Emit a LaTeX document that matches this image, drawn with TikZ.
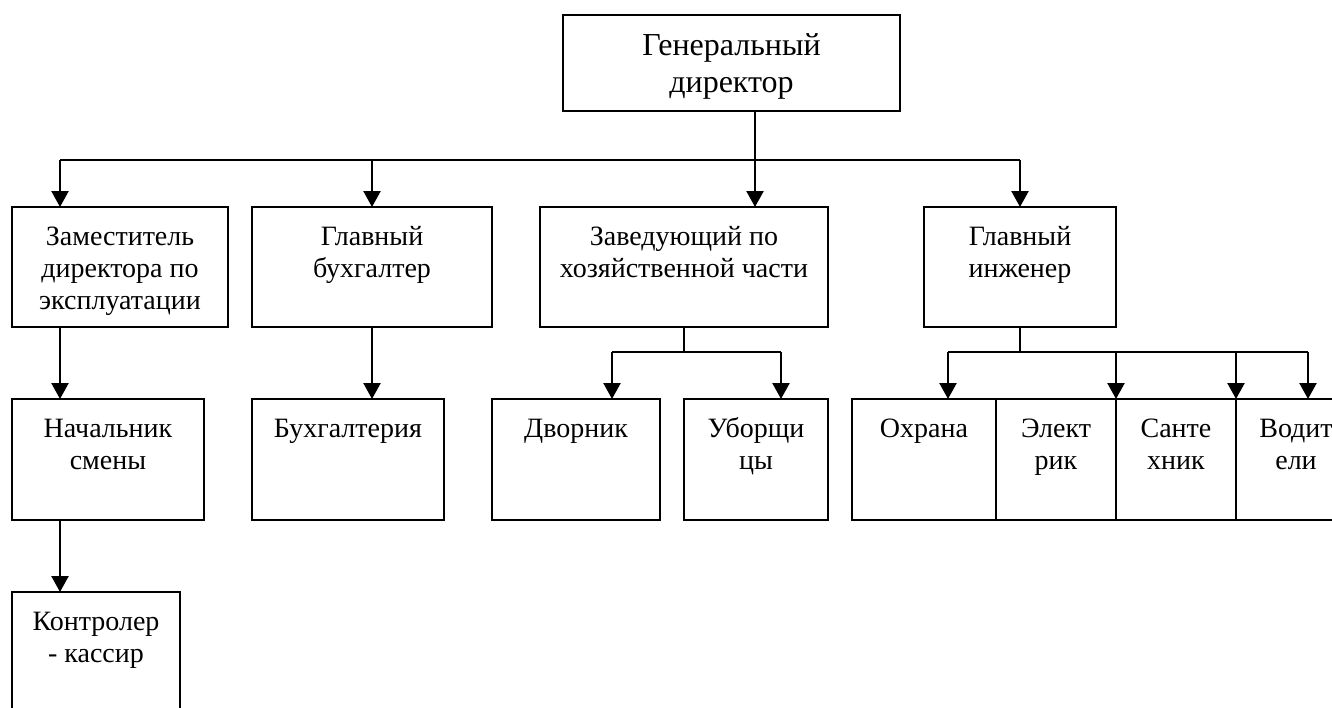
\documentclass[tikz,border=0pt]{standalone}
\usepackage{fontspec}
\setmainfont{Liberation Serif}
\usetikzlibrary{arrows.meta}

\tikzset{
  post/.style={draw,line width=2.4pt,inner sep=0pt,outer sep=0pt,anchor=north west},
  link/.style={line width=2.4pt},
  arr/.style={line width=2.4pt,-{Triangle[width=17pt,length=16pt]}}
}
% text of a post, held at the top of its box
\newcommand{\posttext}[3]{\parbox[c][#2][t]{#1}{\centering\fontsize{28}{32}\selectfont\rule{0pt}{38pt}#3}}
\newcommand{\headtext}[3]{\parbox[c][#2][t]{#1}{\centering\fontsize{32}{37}\selectfont\rule{0pt}{40pt}#3}}

\begin{document}
\begin{tikzpicture}[x=1pt,y=-1pt]
\useasboundingbox (0,0) rectangle (1332,707);
\clip (0,0) rectangle (1332,707);

\node[post] (gd) at (563,15) {\headtext{337pt}{96pt}{Генеральный\\директор}};

\node[post] (z1) at (12,207)  {\posttext{216pt}{120pt}{Заместитель\\директора по\\эксплуатации}};
\node[post] (z2) at (252,207) {\posttext{240pt}{120pt}{Главный\\бухгалтер}};
\node[post] (z3) at (540,207) {\posttext{288pt}{120pt}{Заведующий по\\хозяйственной части}};
\node[post] (z4) at (924,207) {\posttext{192pt}{120pt}{Главный\\инженер}};

\node[post] (n1) at (12,399)   {\posttext{192pt}{121pt}{Начальник\\смены}};
\node[post] (n2) at (252,399)  {\posttext{192pt}{121pt}{Бухгалтерия}};
\node[post] (dv) at (492,399)  {\posttext{168pt}{121pt}{Дворник}};
\node[post] (ub) at (684,399)  {\posttext{144pt}{121pt}{Уборщи\\цы}};
\node[post] (oh) at (852,399)  {\posttext{144pt}{121pt}{Охрана}};
\node[post] (el) at (996,399)  {\posttext{120pt}{121pt}{Элект\\рик}};
\node[post] (st) at (1116,399) {\posttext{120pt}{121pt}{Санте\\хник}};
\node[post] (vd) at (1236,399) {\posttext{120pt}{121pt}{Водит\\ели}};

\node[post] (kk) at (12,592) {\posttext{168pt}{140pt}{Контролер\\- кассир}};

% first level
\coordinate (a1) at (60,160);
\coordinate (a2) at (372,160);
\coordinate (a3) at (755,160);
\coordinate (a4) at (1020,160);
\draw[link] (gd.south -| a3) -- (a3);
\draw[link] (a1) -- (a4);
\foreach \i/\n in {1/z1,2/z2,3/z3,4/z4}
  \draw[arr] (a\i) -- (a\i |- \n.north);

% second level
\draw[arr] (z1.south -| a1) -- (a1 |- n1.north);
\draw[arr] (z2.south -| a2) -- (a2 |- n2.north);

\coordinate (d1) at (612,352);
\coordinate (d2) at (781,352);
\draw[link] (z3.south) -- (z3.south |- d1);
\draw[link] (d1) -- (d2);
\draw[arr] (d1) -- (d1 |- dv.north);
\draw[arr] (d2) -- (d2 |- ub.north);

\coordinate (e1) at (948,352);
\coordinate (e2) at (1116,352);
\coordinate (e3) at (1236,352);
\coordinate (e4) at (1308,352);
\draw[link] (z4.south) -- (z4.south |- e1);
\draw[link] (e1) -- (e4);
\foreach \i/\n in {1/oh,2/el,3/st,4/vd}
  \draw[arr] (e\i) -- (e\i |- \n.north);

% third level
\draw[arr] (n1.south -| a1) -- (a1 |- kk.north);
\end{tikzpicture}
\end{document}
